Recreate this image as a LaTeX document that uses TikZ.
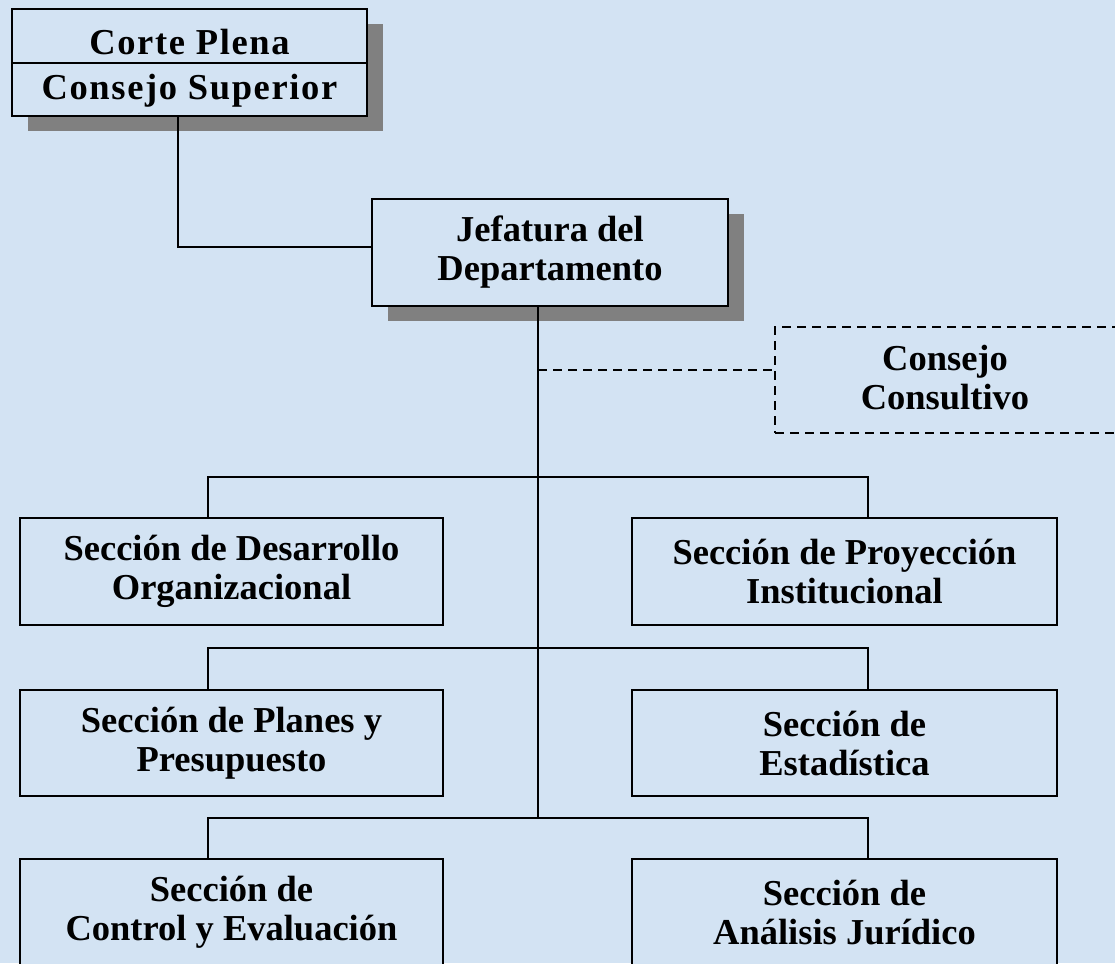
\documentclass[tikz,border=0pt]{standalone}
\usepackage{fontspec}
\setmainfont{Liberation Serif}
\usetikzlibrary{shadows}
\definecolor{bg}{RGB}{211,227,243}
\definecolor{shade}{RGB}{128,128,128}
\begin{document}
\begin{tikzpicture}[x=1pt,y=-1pt,
  txt/.style={font=\bfseries\fontsize{36.5}{39}\selectfont, align=center, inner sep=0pt},
  box/.style={txt, draw, line width=1.9pt, fill=bg},
  shbox/.style={box, drop shadow={shadow xshift=16pt, shadow yshift=-15pt, fill=shade, opacity=1}},
  conn/.style={line width=1.9pt},
  dconn/.style={line width=1.9pt, dash pattern=on 9pt off 6pt}]
\fill[bg] (0,0) rectangle (1115,963);
\useasboundingbox (0,0) rectangle (1115,963);
% top box
\node[shbox, minimum width=355pt, minimum height=107pt] (cp) at (189.5,62.5) {};
\coordinate (dv) at (0,63);
\draw[conn] (cp.west |- dv) -- (cp.east |- dv);
\node[txt, anchor=base] (cpa) at (189.5,55) {\addfontfeature{LetterSpace=4.5}Corte Plena};
\node[txt, anchor=base] (cpb) at (189.5,100) {\addfontfeature{LetterSpace=4.5}Consejo Superior};
% jefatura
\node[shbox, minimum width=356pt, minimum height=107pt] (jef) at (550,252.5) {Jefatura del\\Departamento};
\draw[conn] ([xshift=-11.5pt]cp.south) |- ([yshift=5.5pt]jef.west);
% consejo consultivo
\node[draw, dconn, minimum width=360pt, minimum height=106pt, inner sep=0pt] (cc) at (955,380) {};
\node[txt] (cct) at (945,378) {Consejo\\Consultivo};
% sections
\node[box, minimum width=423pt, minimum height=107pt] (s1l) at (231.5,571.5) {Sección de Desarrollo\\Organizacional};
\node[box, minimum width=425pt, minimum height=107pt] (s1r) at (844.5,571.5) {Sección de Proyección\\Institucional};
\node[box, minimum width=423pt, minimum height=106pt] (s2l) at (231.5,743) {Sección de Planes y\\Presupuesto};
\node[box, minimum width=425pt, minimum height=106pt] (s2r) at (844.5,743) {Sección de\\Estadística};
\node[box, minimum width=423pt, minimum height=107pt] (s3l) at (231.5,912.5) {Sección de\\Control y Evaluación};
\node[box, minimum width=425pt, minimum height=107pt] (s3r) at (844.5,912.5) {Sección de\\Análisis Jurídico};
% trunk
\coordinate (tb) at (538,818);
\coordinate (d1) at (538,370);
\draw[conn] ([xshift=-12pt]jef.south) -- (tb);
\draw[dconn] (d1) -- (cc.west |- d1);
% bars
\coordinate (l1) at (208,477); \coordinate (r1) at (868,477);
\coordinate (l2) at (208,648); \coordinate (r2) at (868,648);
\coordinate (l3) at (208,818); \coordinate (r3) at (868,818);
\draw[conn] (l1 |- s1l.north) -- (l1) -- (r1) -- (r1 |- s1r.north);
\draw[conn] (l2 |- s2l.north) -- (l2) -- (r2) -- (r2 |- s2r.north);
\draw[conn] (l3 |- s3l.north) -- (l3) -- (r3) -- (r3 |- s3r.north);
\end{tikzpicture}
\end{document}
